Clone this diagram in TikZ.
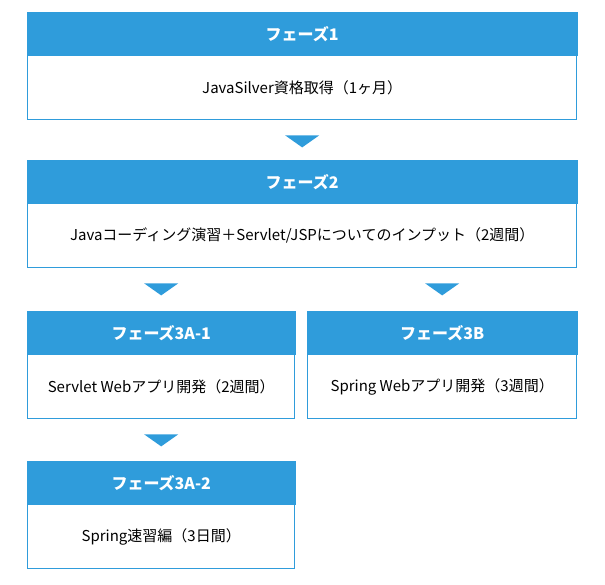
\documentclass[tikz,border=0pt]{standalone}
\usepackage{fontspec}
\setmainfont{Noto Sans CJK JP}
\usetikzlibrary{positioning}
\definecolor{phaseblue}{HTML}{2F9CDB}
\tikzset{
  head/.style = {fill=phaseblue, draw=phaseblue, text=white, font=\bfseries\fontsize{16}{18}\selectfont,
                 minimum height=43pt, inner sep=0pt, anchor=north west},
  body/.style = {draw=phaseblue, line width=1pt, fill=white, font=\fontsize{15}{17}\selectfont,
                 minimum height=64pt, inner sep=0pt, below=0pt of #1},
  tri/.style  = {fill=phaseblue}
}
\newcommand{\downtri}[1]{% triangle below node #1
  \fill[tri] ([xshift=-17pt,yshift=-15pt]#1.south) -- ++(34pt,0) -- ++(-17pt,-12pt) -- cycle;}
\begin{document}
\begin{tikzpicture}[x=1pt,y=1pt]
\useasboundingbox (0,0) rectangle (605,-585);
% phase 1
\node[head, minimum width=550pt] (h1) at (27,-12) {フェーズ1};
\node[body=h1, minimum width=549pt] (b1) {JavaSilver資格取得（1ヶ月）};
\downtri{b1}
% phase 2
\node[head, minimum width=550pt] (h2) at (27,-160) {フェーズ2};
\node[body=h2, minimum width=549pt] (b2) {Javaコーディング演習＋Servlet/JSPについてのインプット（2週間）};
% phase 3
\node[head, minimum width=268pt] (h3a) at (27,-311) {フェーズ3A-1};
\node[body=h3a, minimum width=267pt] (b3a) {Servlet Webアプリ開発（2週間）};
\node[head, minimum width=270pt] (h3b) at (307,-311) {フェーズ3B};
\node[body=h3b, minimum width=269pt] (b3b) {Spring Webアプリ開発（3週間）};
\coordinate (t2a) at (b3a.south |- b2.south);
\coordinate (t2b) at (b3b.south |- b2.south);
\downtri{t2a}
\downtri{t2b}
\downtri{b3a}
% phase 3A-2
\node[head, minimum width=268pt] (h4) at (27,-461) {フェーズ3A-2};
\node[body=h4, minimum width=267pt] (b4) {Spring速習編（3日間）};
\end{tikzpicture}
\end{document}
